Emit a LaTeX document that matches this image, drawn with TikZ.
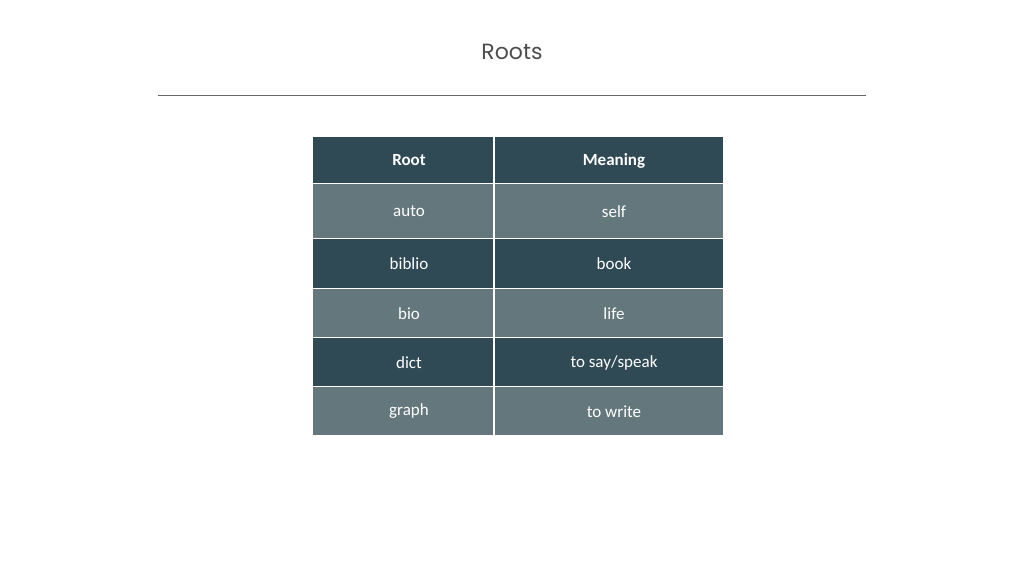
\documentclass[tikz,border=0pt]{standalone}
\usepackage{fontspec}
\setmainfont{Carlito}
\newfontfamily\titlefont{Poppins}
\definecolor{darkc}{HTML}{2F4A55}
\definecolor{lightc}{HTML}{63777D}
\begin{document}
\begin{tikzpicture}[x=1pt,y=-1pt,
  txt/.style={text=white,font=\fontsize{17}{20}\selectfont}]
\useasboundingbox (0,0) rectangle (1024,576);
\node[text=black!70,font=\titlefont\fontsize{22}{26}\selectfont] (title) at (512,52) {Roots};
\coordinate (l1) at (158,95); \coordinate (l2) at (866,95);
\draw[black!60,line width=0.8pt] (l1) -- (l2);
\foreach \ya/\yb/\a/\b/\c/\w in {137/184/Root/Meaning/darkc/\bfseries,184/239/auto/self/lightc/\relax,239/289/biblio/book/darkc/\relax,289/338/bio/life/lightc/\relax,338/387/dict/to say\slash speak/darkc/\relax,387/436/graph/to write/lightc/\relax}{
  \fill[\c] (313,\ya) rectangle (723,\yb);
  \draw[white,line width=2pt] (313,\yb) -- (723,\yb);
  \draw[white,line width=1.5pt] (494,\ya) -- (494,\yb);
  \node[txt] (a\ya) at (409,{(\ya+\yb)/2}) {\w\a};
  \node[txt] (b\ya) at (614,{(\ya+\yb)/2}) {\w\b};
}
\end{tikzpicture}
\end{document}
